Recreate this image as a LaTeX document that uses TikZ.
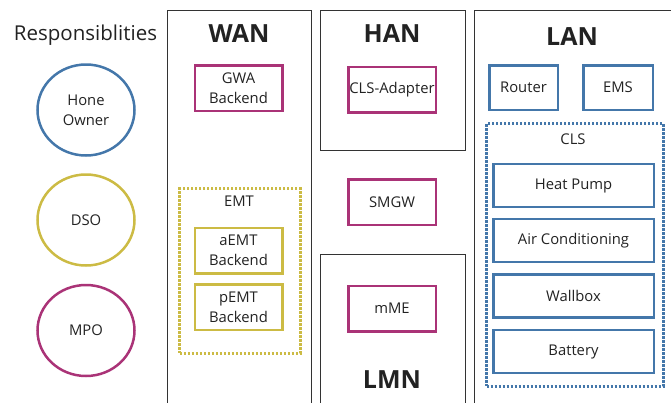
\documentclass[tikz,border=0pt]{standalone}
\usepackage{fontspec}
\setmainfont{Open Sans}
\usetikzlibrary{positioning}
\usetikzlibrary{shapes.geometric}

\definecolor{rolblue}{HTML}{4477AA}
\definecolor{rolyellow}{HTML}{CCBB44}
\definecolor{rolpurple}{HTML}{AA3377}
\definecolor{framegray}{HTML}{333333}
\definecolor{inkgray}{HTML}{222222}

\begin{document}
\begin{tikzpicture}[x = 1pt, y = -1pt]
  \tikzstyle{role}=[ellipse, line width = 2.5pt, minimum width = 97pt, minimum height = 91pt, align = center, text = inkgray, font = \fontsize{14.8}{20}\selectfont]
  \tikzstyle{part}=[rectangle, line width = 2.5pt, minimum width = 87.5pt, minimum height = 45.5pt, inner sep = 1pt, align = center, text = inkgray, font = \fontsize{14.8}{20}\selectfont]
  \tikzstyle{device}=[part, draw = rolblue, minimum width = 160.5pt, minimum height = 43pt]
  \tikzstyle{net}=[rectangle, draw = framegray, line width = 1.2pt, anchor = north west, inner sep = 0pt]
  \tikzstyle{title}=[text = inkgray, font = \fontsize{25}{30}\selectfont\bfseries]
  \tikzstyle{group}=[rectangle, line width = 2.8pt, dash pattern = on 2.4pt off 1.6pt, anchor = north west, inner sep = 0pt]
  \tikzstyle{label}=[text = inkgray, font = \fontsize{14.8}{20}\selectfont]

  \useasboundingbox (0,0) rectangle (671,402);

  % roles
  \node[text = inkgray, font = \fontsize{20.5}{24}\selectfont] (resp) at (85.5, 35) {Responsiblities};
  \node[role, draw = rolblue] (owner) at (86, 110) {Hone\\Owner};
  \node[role, draw = rolyellow] (dso) at (86, 220) {DSO};
  \node[role, draw = rolpurple] (mpo) at (86, 330.5) {MPO};

  % networks
  \node[net, minimum width = 144pt, minimum height = 420pt] (wan) at (166.5, 9.5) {};
  \node[net, minimum width = 145pt, minimum height = 140.5pt] (han) at (319.5, 9.5) {};
  \node[net, minimum width = 145pt, minimum height = 170pt] (lmn) at (319.5, 253.5) {};
  \node[net, minimum width = 230pt, minimum height = 420pt] (lan) at (473.5, 9.5) {};

  \node[title] (wantitle) at (239, 34) {WAN};
  \node[title] (hantitle) at (392, 34) {HAN};
  \node[title] (lantitle) at (572, 37) {LAN};
  \node[title] (lmntitle) at (392, 380) {LMN};

  % WAN
  \node[part, draw = rolpurple] (gwa) at (238.5, 88) {GWA\\Backend};
  \node[group, draw = rolyellow, minimum width = 120.5pt, minimum height = 164.5pt] (emt) at (178.25, 187.25) {};
  \node[label] (emtlabel) at (239, 201) {EMT};
  \node[part, draw = rolyellow] (aemt) at (238.5, 250.5) {aEMT\\Backend};
  \node[part, draw = rolyellow] (pemt) at (238.5, 307) {pEMT\\Backend};

  % HAN / LMN
  \node[part, draw = rolpurple] (clsad) at (392, 89.5) {CLS-Adapter};
  \node[part, draw = rolpurple] (smgw) at (392, 202) {SMGW};
  \node[part, draw = rolpurple] (mme) at (392, 308.5) {mME};

  % LAN
  \node[part, draw = rolblue, minimum width = 68.5pt, minimum height = 44.5pt] (router) at (523.5, 87.5) {Router};
  \node[part, draw = rolblue, minimum width = 69.5pt, minimum height = 44.5pt] (ems) at (618, 87.5) {EMS};
  \node[group, draw = rolblue, minimum width = 176.5pt, minimum height = 262.5pt] (cls) at (485.25, 122.25) {};
  \node[label] (clslabel) at (573, 139) {CLS};
  \node[device] (heat) at (573.5, 185.5) {Heat Pump};
  \node[device] (air) at (573.5, 240.5) {Air Conditioning};
  \node[device] (wall) at (573.5, 296) {Wallbox};
  \node[device] (batt) at (573.5, 351.5) {Battery};

\end{tikzpicture}
\end{document}
